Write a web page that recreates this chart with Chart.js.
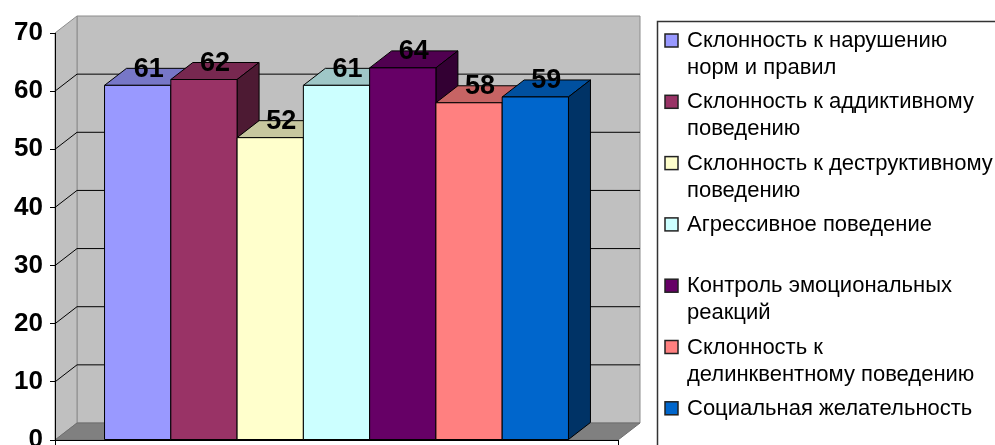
<!DOCTYPE html>
<html>
<head>
<meta charset="utf-8">
<script src="https://cdn.jsdelivr.net/npm/chart.js@4.4.1/dist/chart.umd.min.js"></script>
<style>
    html, body { margin: 0; padding: 0; background: #fff; width: 995px; height: 445px; overflow: hidden; }
    canvas { display: block; }
</style>
</head>
<body>
<canvas id="barChart" width="995" height="475"></canvas>
<script>
// Шкалы опросника (строки подписи в легенде)
var seriesNames = [
    ['Склонность к нарушению', 'норм и правил'],
    ['Склонность к аддиктивному', 'поведению'],
    ['Склонность к деструктивному', 'поведению'],
    ['Агрессивное поведение'],
    ['Контроль эмоциональных', 'реакций'],
    ['Склонность к', 'делинквентному поведению'],
    ['Социальная желательность']
];

// Значения по шкалам
var seriesValues = [61, 62, 52, 61, 64, 58, 59];

// Цвета столбцов
var seriesColors = ['#9999ff', '#993366', '#ffffcc', '#ccffff', '#660066', '#ff8080', '#0066cc'];

// Деления оси Y
var yTicks = [0, 10, 20, 30, 40, 50, 60, 70];

// Смещение "глубины" для объёмного вида
var DX = 22, DY = 17;

// Затемнение цвета
function shade(hex, k) {
    var n = parseInt(hex.slice(1), 16);
    var r = Math.round(((n >> 16) & 255) * k);
    var g = Math.round(((n >> 8) & 255) * k);
    var b = Math.round((n & 255) * k);
    return 'rgb(' + r + ',' + g + ',' + b + ')';
}

function poly(ctx, pts, fill, stroke) {
    ctx.beginPath();
    ctx.moveTo(pts[0][0], pts[0][1]);
    for (var i = 1; i < pts.length; i++) ctx.lineTo(pts[i][0], pts[i][1]);
    ctx.closePath();
    if (fill) { ctx.fillStyle = fill; ctx.fill(); }
    if (stroke) { ctx.strokeStyle = stroke; ctx.stroke(); }
}

// Стенки и пол
var wallsPlugin = {
    id: 'walls',
    beforeDraw: function (chart) {
        var ctx = chart.ctx, a = chart.chartArea, y = chart.scales.y;
        var yTop = y.getPixelForValue(yTicks[yTicks.length - 1]);
        var y0 = y.getPixelForValue(0);
        ctx.save();
        ctx.lineWidth = 1;
        // задняя стенка
        poly(ctx, [[a.left + DX, yTop - DY], [a.right + DX, yTop - DY], [a.right + DX, y0 - DY], [a.left + DX, y0 - DY]], '#c0c0c0', '#8c8c8c');
        // левая стенка
        poly(ctx, [[a.left, yTop], [a.left + DX, yTop - DY], [a.left + DX, y0 - DY], [a.left, y0]], '#c0c0c0', '#8c8c8c');
        // пол
        poly(ctx, [[a.left, y0], [a.left + DX, y0 - DY], [a.right + DX, y0 - DY], [a.right, y0]], '#808080', '#6e6e6e');
        // линии сетки
        ctx.strokeStyle = '#000';
        yTicks.forEach(function (v) {
            if (v === 0 || v === yTicks[yTicks.length - 1]) return;
            var py = y.getPixelForValue(v);
            ctx.beginPath();
            ctx.moveTo(a.left, py);
            ctx.lineTo(a.left + DX, py - DY);
            ctx.lineTo(a.right + DX, py - DY);
            ctx.stroke();
        });
        ctx.restore();
    }
};

// Объёмные столбцы и подписи значений
var bars3dPlugin = {
    id: 'bars3d',
    afterDatasetsDraw: function (chart) {
        var ctx = chart.ctx;
        var bars = [];
        chart.data.datasets.forEach(function (ds, i) {
            chart.getDatasetMeta(i).data.forEach(function (el, j) {
                bars.push({ el: el, color: ds.backgroundColor, value: ds.data[j] });
            });
        });
        bars.sort(function (p, q) { return p.el.x - q.el.x; });

        ctx.save();
        ctx.lineWidth = 1;
        bars.forEach(function (bar) {
            var p = bar.el.getProps(['x', 'y', 'base', 'width'], true);
            var l = p.x - p.width / 2, r = p.x + p.width / 2, t = p.y, b = p.base;
            poly(ctx, [[l, t], [l + DX, t - DY], [r + DX, t - DY], [r, t]], shade(bar.color, 0.78), '#000');
            poly(ctx, [[r, t], [r + DX, t - DY], [r + DX, b - DY], [r, b]], shade(bar.color, 0.5), '#000');
            poly(ctx, [[l, t], [r, t], [r, b], [l, b]], bar.color, '#000');
        });

        ctx.fillStyle = '#000';
        ctx.font = 'bold 27px "Liberation Sans", Arial, sans-serif';
        ctx.textAlign = 'center';
        ctx.textBaseline = 'middle';
        bars.forEach(function (bar) {
            var p = bar.el.getProps(['x', 'y'], true);
            ctx.fillText(String(bar.value), p.x + DX / 2, p.y - DY + 1);
        });
        ctx.restore();
    }
};

// Легенда справа
var legendPlugin = {
    id: 'sideLegend',
    afterDraw: function (chart) {
        var ctx = chart.ctx;
        ctx.save();
        ctx.strokeStyle = '#333';
        ctx.lineWidth = 1.5;
        ctx.strokeRect(657.5, 21.5, 400, 500);
        ctx.font = '22px "Liberation Sans", Arial, sans-serif';
        ctx.textAlign = 'left';
        ctx.textBaseline = 'alphabetic';
        seriesNames.forEach(function (lines, i) {
            var base = 47 + i * 61.3;
            ctx.lineWidth = 1.5;
            ctx.fillStyle = seriesColors[i];
            ctx.fillRect(665, base - 13, 13, 13);
            ctx.strokeStyle = '#222';
            ctx.strokeRect(665, base - 13, 13, 13);
            ctx.fillStyle = '#000';
            lines.forEach(function (txt, k) {
                ctx.fillText(txt, 687, base + k * 27);
            });
        });
        ctx.restore();
    }
};

var datasets = seriesNames.map(function (name, i) {
    return {
        label: name.join(' '),
        data: [seriesValues[i]],
        backgroundColor: seriesColors[i],
        borderColor: '#000',
        borderWidth: 1
    };
});

var ctx = document.getElementById('barChart').getContext('2d');

new Chart(ctx, {
    type: 'bar',
    data: {
        labels: [''],
        datasets: datasets
    },
    options: {
        responsive: false,
        animation: false,
        devicePixelRatio: 1,
        categoryPercentage: 0.824,
        barPercentage: 1,
        // низ области построения на 440px, ниже видимой части всё обрезается
        layout: { padding: { top: 33, right: 377, left: 0, bottom: 30 } },
        plugins: {
            legend: { display: false },
            tooltip: { enabled: false }
        },
        scales: {
            x: {
                grid: { display: true, drawOnChartArea: false, drawTicks: true, tickLength: 5, color: '#000', offset: true },
                border: { display: true, color: '#000', width: 1 },
                ticks: { display: false }
            },
            y: {
                min: yTicks[0],
                max: yTicks[yTicks.length - 1],
                afterBuildTicks: function (scale) {
                    scale.ticks = yTicks.map(function (v) { return { value: v }; });
                },
                afterFit: function (scale) { scale.width = 55; },
                grid: { display: true, drawOnChartArea: false, drawTicks: true, tickLength: 5, color: '#000' },
                border: { display: true, color: '#000', width: 1 },
                ticks: {
                    padding: 7,
                    color: '#000',
                    font: { family: '"Liberation Sans", Arial, sans-serif', size: 26, weight: 'bold' }
                }
            }
        }
    },
    plugins: [wallsPlugin, bars3dPlugin, legendPlugin]
});
</script>
</body>
</html>
